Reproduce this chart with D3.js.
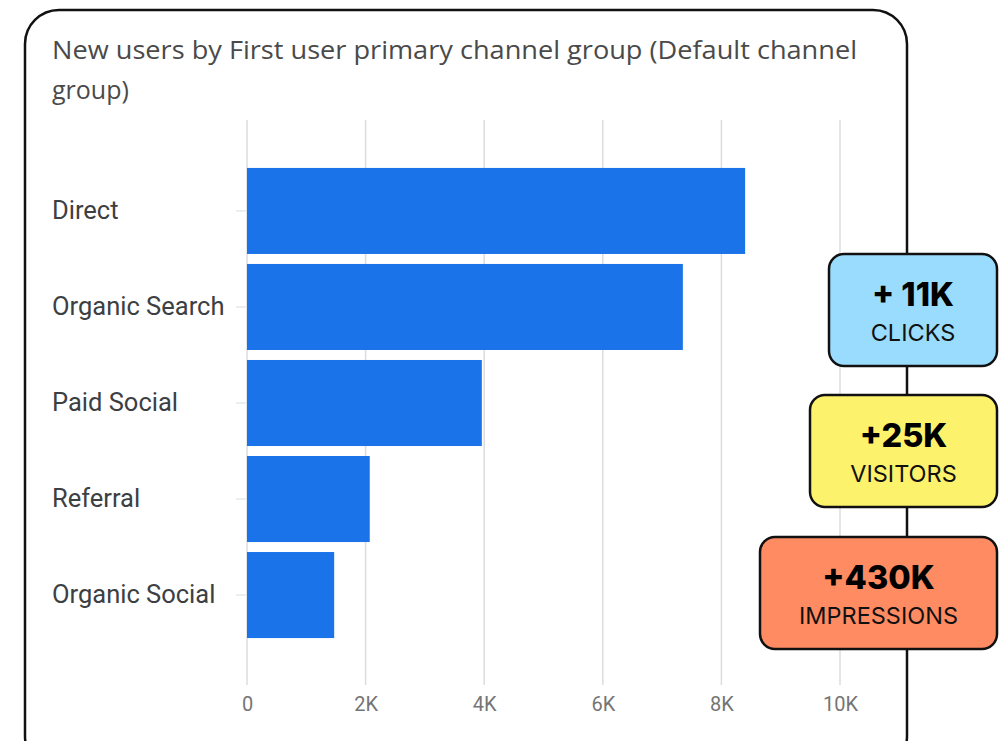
<!DOCTYPE html>
<html>
<head>
<meta charset="utf-8">
<script src="https://cdn.jsdelivr.net/npm/d3@7"></script>
<style>
  body { margin: 0; background: #fff; }
  svg { display: block; }
</style>
</head>
<body>
<div class="container"></div>
<script>
var channels = ['Direct', 'Organic Search', 'Paid Social', 'Referral', 'Organic Social'];
var newUsers = [8400, 7350, 3960, 2070, 1470];
var xTicks = [0, 2000, 4000, 6000, 8000, 10000];
var titleLines = ['New users by First user primary channel group (Default channel', 'group)'];

var badgeValues = ['+ 11K', '+25K', '+430K'];
var badgeLabels = ['CLICKS', 'VISITORS', 'IMPRESSIONS'];
var badgeColors = ['#9adcfd', '#fdf26b', '#ff8b63'];

const WIDTH = 1005;
const HEIGHT = 741;

var translate = (x, y) => (`translate(${x}, ${y})`);

var xScale = d3.scaleLinear()
    .domain([0, 10000])
    .range([247, 840]);

var yScale = d3.scaleBand()
    .domain(channels)
    .range([118, 688])
    .paddingInner(0.104)
    .paddingOuter(0.52);

var svg = d3.select('.container').append('svg')
    .attr('width', WIDTH)
    .attr('height', HEIGHT);

// card
svg.append('rect')
    .attr('x', 25)
    .attr('y', 10)
    .attr('width', 882)
    .attr('height', 760)
    .attr('rx', 34)
    .attr('fill', '#fff')
    .attr('stroke', '#111')
    .attr('stroke-width', 2.5);

// title
svg.append('g').selectAll('text')
    .data(titleLines)
    .enter().append('text')
    .attr('x', 52)
    .attr('y', (d, i) => 59 + i * 40)
    .attr('font-family', '"Open Sans", sans-serif')
    .attr('font-size', 25)
    .attr('fill', '#4a4a4a')
    .attr('textLength', (d, i) => i === 0 ? 805 : null)
    .attr('lengthAdjust', 'spacingAndGlyphs')
    .text(d => d);

// grid
svg.append('g')
    .selectAll('line')
    .data(xTicks)
    .enter().append('line')
    .attr('x1', xScale)
    .attr('x2', xScale)
    .attr('y1', 120)
    .attr('y2', 685)
    .attr('stroke', '#dadce0')
    .attr('stroke-width', 1.5);

var xAxis = d3.axisBottom(xScale)
    .tickValues(xTicks)
    .tickSize(0)
    .tickPadding(0)
    .tickFormat(d => d === 0 ? '0' : (d / 1000) + 'K');

var gx = svg.append('g')
    .attr('transform', translate(0, 711))
    .call(xAxis);
gx.select('.domain').remove();
gx.selectAll('text')
    .attr('dy', 0)
    .attr('font-family', 'Roboto, sans-serif')
    .attr('font-size', 20)
    .attr('fill', '#757575');

// y axis
var yAxis = d3.axisLeft(yScale)
    .tickSize(10)
    .tickPadding(12);

var gy = svg.append('g')
    .attr('transform', translate(246, 0))
    .call(yAxis);
gy.select('.domain').remove();
gy.selectAll('line').attr('stroke', '#dadce0');
gy.selectAll('text')
    .attr('x', -194)
    .attr('text-anchor', 'start')
    .attr('font-family', 'Roboto, sans-serif')
    .attr('font-size', 25.5)
    .attr('font-weight', 400)
    .attr('fill', '#3c4043');

// bars
svg.append('g').selectAll('rect')
    .data(newUsers)
    .enter().append('rect')
    .attr('x', xScale(0))
    .attr('y', (d, i) => yScale(channels[i]))
    .attr('width', d => xScale(d) - xScale(0))
    .attr('height', yScale.bandwidth())
    .attr('fill', '#1a73e8');

// badges
var badgeBoxes = [
  {x: 829, y: 254, w: 168},
  {x: 810, y: 395, w: 187},
  {x: 760, y: 537, w: 237}
];

var badges = svg.append('g').selectAll('g')
    .data(badgeValues)
    .enter().append('g')
    .attr('transform', (d, i) => translate(badgeBoxes[i].x, badgeBoxes[i].y));

badges.append('rect')
    .attr('width', (d, i) => badgeBoxes[i].w)
    .attr('height', 112)
    .attr('rx', 15)
    .attr('fill', (d, i) => badgeColors[i])
    .attr('stroke', '#111')
    .attr('stroke-width', 2.5);

badges.append('text')
    .attr('x', (d, i) => badgeBoxes[i].w / 2)
    .attr('y', 52)
    .attr('text-anchor', 'middle')
    .attr('font-family', 'Inter, sans-serif')
    .attr('font-size', 32.5)
    .attr('font-weight', 800)
    .attr('fill', '#000')
    .text(d => d);

badges.append('text')
    .attr('x', (d, i) => badgeBoxes[i].w / 2)
    .attr('y', 87)
    .attr('text-anchor', 'middle')
    .attr('font-family', 'Inter, sans-serif')
    .attr('font-size', 23.5)
    .attr('fill', '#111')
    .text((d, i) => badgeLabels[i]);
</script>
</body>
</html>
